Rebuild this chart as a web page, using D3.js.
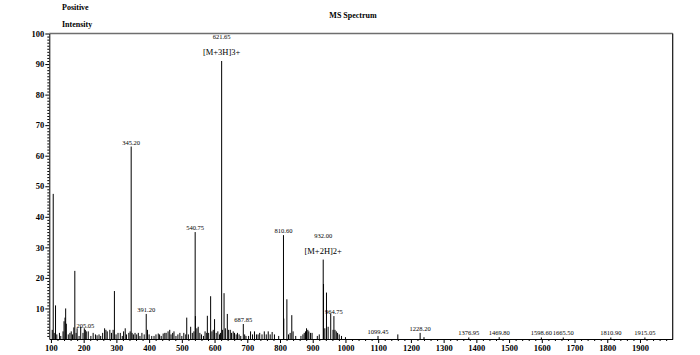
<!DOCTYPE html>
<html><head><meta charset="utf-8">
<script src="https://cdn.jsdelivr.net/npm/d3@7"></script>
<style>body{margin:0;background:#fff}svg{display:block}text{font-family:"Liberation Serif","Times New Roman",serif}</style>
</head><body><svg id="c" width="700" height="355"></svg>
<script>
const title = "MS Spectrum";
const topLabels = ["Positive", "Intensity"];
const xMajorTicks = [100,200,300,400,500,600,700,800,900,1000,1100,1200,1300,1400,1500,1600,1700,1800,1900];
const yMajorTicks = [10,20,30,40,50,60,70,80,90,100];
const mzValues = [104,107,110,114,118,126,130,137,140,143,145,147,153,158,162,166,170,173,177,180,186,191,198,202,205.05,208,214,222,229,236,241,247,252,258,264,268,272,280,285,290,294,299,305,312,318,322,327,331,338,342,345.2,348,352,357,362,367,372,378,385,391.2,395,400,408,415,421,428,432,437,443,448,452,458,463,467,472,476,482,488,494,500,506,512,515,520,527,532,537,540.75,541.5,546,550,555,560,566,571,576,578,582,588,592,596,600,605,610,615,618,621.65,624,629,633,639,643,648,652,657,661,666,670,675,680,687.85,692,696,704,710,716,722,728,733,738,745,752,758,764,770,776,783,796,810.6,811.5,821,826,831,836,840,848,864,870,874,878,881,885,888,893,898,914,920,932,933,937,942,947,955,964.75,962,968,972,976,981,988,1000,1099.45,1160,1228.2,1240,1376.95,1469.8,1598.6,1665.5,1810.9,1915.05];
const intensities = [3,47.5,2,11,1.5,2,1,2.5,5.8,7,10,5,1.5,2,2.5,1.5,3.8,22.3,2,3.5,1,4,2,3.5,3,2.5,2.5,1,2,1.5,1.2,1.5,1,2,3.5,3,2.5,3,2,3,15.7,1.5,2,2,1,2.5,3.5,1.5,2,2.5,63,2,1.5,2,1.5,2,1,2,1.5,8.2,3,1.5,1,1,1.5,1.8,1.5,1,1.8,2,2,2.5,3,1.5,2,2.5,1,1.5,2,1,2,1.5,7,1.5,4,2,2.5,35,7.5,3.5,4,2,1.5,1,2.5,2,7.6,2,14,2.5,3,6.5,2,2.5,1.5,2,91,3,15,3.5,8.2,3,3,2,2.5,2,1.5,2,1.5,1,4.9,1.5,1,1,2.5,1.5,2.5,1.5,1.5,2,1.5,2.5,1.5,2.5,1.5,2.3,1.5,1,34,6.7,13,1.5,2,7.8,2.5,1,1,1.5,2,2.5,3.5,3,2.5,2,2,1,1.5,26,18,3.5,15.2,4,8.3,7.5,3,3,2.5,2,1.5,1,0.6,1,1.5,2,0.6,0.5,0.6,0.5,0.5,0.5,0.5];
const labelledMz = [205.05,345.2,391.2,540.75,621.65,687.85,810.6,932,964.75,1099.45,1228.2,1376.95,1469.8,1598.6,1665.5,1810.9,1915.05];
const labelTexts = ["205.05","345.20","391.20","540.75","621.65","687.85","810.60","932.00","964.75","1099.45","1228.20","1376.95","1469.80","1598.60","1665.50","1810.90","1915.05"];
const ionMz = [621.65, 932];
const ionTexts = ["[M+3H]3+", "[M+2H]2+"];

const svg = d3.select("#c");
const x = d3.scaleLinear().domain([95, 2000]).range([49.3, 672.7]);
const y = d3.scaleLinear().domain([0, 100]).range([339, 33.5]);
const peaks = mzValues.map((m,i)=>({mz:m, v:intensities[i]}));

svg.append("text").attr("x",62).attr("y",10).attr("font-size",8).attr("font-weight","bold").text(topLabels[0]);
svg.append("text").attr("x",62).attr("y",27).attr("font-size",8).attr("font-weight","bold").text(topLabels[1]);
svg.append("text").attr("x",353).attr("y",18).attr("text-anchor","middle").attr("font-size",8).attr("font-weight","bold").text(title);

// frame
svg.append("line").attr("x1",x.range()[0]).attr("x2",x.range()[1]).attr("y1",y(100)).attr("y2",y(100)).attr("stroke","#6e6e6e").attr("stroke-width",1.6);
svg.append("line").attr("x1",x.range()[1]).attr("x2",x.range()[1]).attr("y1",y(100)).attr("y2",y(0)).attr("stroke","#111").attr("stroke-width",1.2);

// peaks
svg.append("g").selectAll("line").data(peaks).join("line")
  .attr("x1",d=>x(d.mz)).attr("x2",d=>x(d.mz)).attr("y1",y(0)).attr("y2",d=>y(d.v))
  .attr("stroke","#000").attr("stroke-width",1);

// x axis
const xMinor = d3.range(100, 2000, 20).filter(v=>v%100!==0);
svg.append("g").attr("transform",`translate(0,${y(0)})`)
  .call(d3.axisBottom(x).tickValues(xMinor).tickSize(2).tickFormat("")).call(g=>g.select(".domain").remove());
const gx = svg.append("g").attr("transform",`translate(0,${y(0)})`)
  .call(d3.axisBottom(x).tickValues(xMajorTicks).tickFormat(d3.format("d")).tickSize(4).tickSizeOuter(0).tickPadding(2));
gx.selectAll("text").attr("font-size",8.5).attr("font-weight","bold").attr("fill","#000");

// y axis
const yMinor = d3.range(1,100,1).filter(v=>v%10!==0);
svg.append("g").attr("transform",`translate(${x.range()[0]},0)`)
  .call(d3.axisLeft(y).tickValues(yMinor).tickSize(2).tickFormat("")).call(g=>g.select(".domain").remove());
const gy = svg.append("g").attr("transform",`translate(${x.range()[0]},0)`)
  .call(d3.axisLeft(y).tickValues(yMajorTicks).tickFormat(d3.format("d")).tickSize(4).tickSizeOuter(0).tickPadding(1));
gy.selectAll("text").attr("font-size",8.5).attr("font-weight","bold").attr("fill","#000");

// labels
const peakAt = m => peaks.find(p=>p.mz===m);
const ionSet = new Set(ionMz);
svg.append("g").selectAll("text").data(labelledMz).join("text")
  .attr("x",m=>x(m)).attr("y",m=>y(peakAt(m).v) - (ionSet.has(m) ? 22 : 2))
  .attr("text-anchor","middle").attr("font-size",6.5).text((m,i)=>labelTexts[i]);
svg.append("g").selectAll("text").data(ionMz).join("text")
  .attr("x",m=>x(m)).attr("y",m=>y(peakAt(m).v) - 6)
  .attr("text-anchor","middle").attr("font-size",8.5).text((m,i)=>ionTexts[i]);
</script></body></html>
